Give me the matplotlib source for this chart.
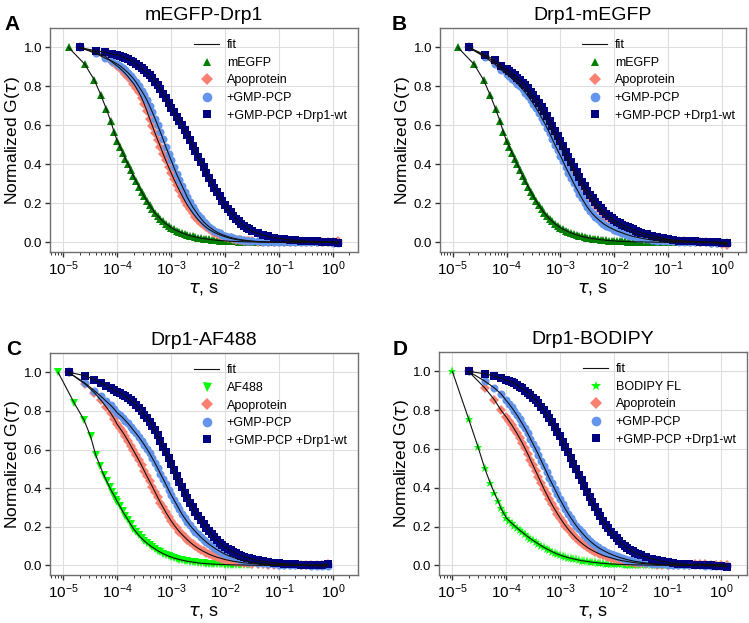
"""Normalized FCS autocorrelation curves, four labelled Drp1 constructs."""
import matplotlib
matplotlib.use("Agg")
import matplotlib.pyplot as plt
from matplotlib.lines import Line2D
from matplotlib.ticker import LogLocator, NullFormatter, FormatStrFormatter

import numpy as np

plt.rcParams['font.family'] = ['Liberation Sans', 'DejaVu Sans']
plt.rcParams['mathtext.fontset'] = 'dejavusans'

# lag times, log10(tau / s), shared by all curves after the first few lags
LOG_T = [-4.0, -3.95, -3.9, -3.85, -3.8, -3.75, -3.7, -3.65, -3.6, -3.55,
         -3.5, -3.45, -3.4, -3.35, -3.3, -3.25, -3.2, -3.15, -3.1, -3.05,
         -3.0, -2.95, -2.9, -2.85, -2.8, -2.75, -2.7, -2.65, -2.6, -2.55,
         -2.5, -2.45, -2.4, -2.35, -2.3, -2.25, -2.2, -2.15, -2.1, -2.05,
         -2.0, -1.95, -1.9, -1.85, -1.8, -1.75, -1.7, -1.65, -1.6, -1.55,
         -1.5, -1.4, -1.3, -1.2, -1.1, -1.0, -0.9, -0.8, -0.7, -0.6,
         -0.5, -0.4, -0.3, -0.2, -0.1, 0.0, 0.1]
LOG_T_C = LOG_T[:65]

# first (linearly spaced) lags, seconds
T_EARLY_125 = [1.25e-5, 2.5e-5, 3.75e-5, 5.0e-5, 6.25e-5, 7.5e-5, 8.75e-5]
T_EARLY_20 = [2e-5, 4e-5, 6e-5, 8e-5]
T_EARLY_08 = [0.8e-5, 1.6e-5, 2.4e-5, 3.2e-5, 4.0e-5, 4.8e-5,
              5.6e-5, 6.4e-5, 7.2e-5, 8.0e-5, 8.8e-5, 9.6e-5]
T_EARLY_10 = [1e-5, 2e-5, 3e-5, 4e-5, 5e-5, 6e-5, 7e-5, 8e-5, 9e-5]

# --- panel A / B dye: mEGFP
MEGFP = [1.0, 0.914, 0.833, 0.754, 0.685, 0.625, 0.565,
         0.52, 0.49, 0.46, 0.43, 0.40, 0.37, 0.34, 0.312, 0.285, 0.26,
         0.235, 0.212, 0.19, 0.17, 0.15, 0.135, 0.12, 0.107, 0.095, 0.085,
         0.075, 0.067, 0.06, 0.054, 0.048, 0.043, 0.038, 0.034, 0.03, 0.027,
         0.024, 0.021, 0.019, 0.017, 0.015, 0.013, 0.012, 0.01, 0.009, 0.008,
         0.007, 0.006, 0.005, 0.0045, 0.004, 0.0035, 0.003, 0.0025, 0.002, 0.002,
         0.002, 0.001, 0.001, 0.0, 0.0, 0.0, 0.0, 0.0, 0.0, 0.0,
         0.0, 0.0, 0.0, 0.0, 0.0, 0.0, 0.0]

# --- panel A: mEGFP-Drp1
A_APO = [1.0, 0.975, 0.955, 0.925,
         0.905, 0.893, 0.88, 0.866, 0.85, 0.833, 0.815, 0.794, 0.77, 0.742,
         0.71, 0.674, 0.635, 0.598, 0.56, 0.525, 0.49, 0.455, 0.42, 0.387,
         0.355, 0.324, 0.295, 0.267, 0.24, 0.214, 0.19, 0.17, 0.15, 0.132,
         0.115, 0.101, 0.088, 0.076, 0.066, 0.058, 0.05, 0.044, 0.038, 0.033,
         0.028, 0.024, 0.02, 0.017, 0.014, 0.012, 0.01, 0.0085, 0.007, 0.006,
         0.005, 0.003, 0.002, 0.001, 0.0, 0.0, 0.0, 0.002, 0.003, 0.002,
         0.0, 0.0, 0.002, 0.003, 0.002, 0.0, 0.004]
A_GMP = [1.0, 0.97, 0.945, 0.93,
         0.915, 0.906, 0.895, 0.883, 0.87, 0.856, 0.84, 0.821, 0.80, 0.778,
         0.755, 0.729, 0.70, 0.668, 0.635, 0.60, 0.565, 0.528, 0.49, 0.455,
         0.42, 0.385, 0.35, 0.32, 0.29, 0.26, 0.23, 0.205, 0.18, 0.16,
         0.14, 0.122, 0.105, 0.092, 0.08, 0.07, 0.06, 0.052, 0.045, 0.039,
         0.034, 0.029, 0.025, 0.021, 0.018, 0.015, 0.013, 0.011, 0.009, 0.0075,
         0.006, 0.004, 0.003, 0.002, 0.001, 0.0, 0.0, 0.0, 0.0, 0.0,
         0.0, 0.0, 0.0, 0.0, 0.0, -0.002, -0.004]
A_WT = [1.0, 0.983, 0.976, 0.965,
        0.962, 0.957, 0.952, 0.946, 0.94, 0.933, 0.925, 0.915, 0.905, 0.894,
        0.882, 0.87, 0.858, 0.842, 0.825, 0.806, 0.785, 0.763, 0.74, 0.715,
        0.69, 0.668, 0.645, 0.623, 0.60, 0.575, 0.55, 0.523, 0.495, 0.468,
        0.44, 0.412, 0.385, 0.357, 0.33, 0.305, 0.28, 0.257, 0.235, 0.212,
        0.19, 0.172, 0.155, 0.137, 0.12, 0.107, 0.095, 0.085, 0.075, 0.066,
        0.058, 0.046, 0.037, 0.03, 0.024, 0.019, 0.015, 0.012, 0.01, 0.008,
        0.006, 0.005, 0.004, 0.003, 0.002, 0.0, -0.005]

# --- panel B: Drp1-mEGFP
B_APO = [1.0, 0.955, 0.925, 0.895,
         0.875, 0.865, 0.855, 0.843, 0.83, 0.815, 0.80, 0.785, 0.77, 0.75,
         0.73, 0.71, 0.69, 0.668, 0.645, 0.62, 0.595, 0.568, 0.54, 0.515,
         0.49, 0.462, 0.435, 0.41, 0.385, 0.36, 0.335, 0.312, 0.29, 0.267,
         0.245, 0.227, 0.21, 0.192, 0.175, 0.16, 0.145, 0.132, 0.12, 0.11,
         0.1, 0.091, 0.082, 0.074, 0.067, 0.061, 0.055, 0.05, 0.045, 0.04,
         0.036, 0.029, 0.023, 0.018, 0.014, 0.011, 0.008, 0.006, 0.004, 0.003,
         0.002, 0.001, 0.0, -0.002, -0.004, -0.008, -0.015]
B_GMP = [1.0, 0.95, 0.915, 0.885,
         0.865, 0.853, 0.84, 0.828, 0.815, 0.80, 0.785, 0.768, 0.75, 0.73,
         0.71, 0.688, 0.665, 0.64, 0.615, 0.588, 0.56, 0.53, 0.50, 0.472,
         0.445, 0.415, 0.385, 0.357, 0.33, 0.302, 0.275, 0.25, 0.225, 0.202,
         0.18, 0.162, 0.145, 0.131, 0.118, 0.106, 0.095, 0.086, 0.078, 0.071,
         0.064, 0.058, 0.053, 0.048, 0.043, 0.038, 0.034, 0.03, 0.027, 0.024,
         0.021, 0.016, 0.012, 0.009, 0.007, 0.005, 0.004, 0.003, 0.002, 0.001,
         0.0, 0.0, 0.0, -0.002, -0.003, -0.005, -0.006]
B_WT = [1.0, 0.962, 0.935, 0.905,
        0.887, 0.879, 0.87, 0.858, 0.845, 0.833, 0.82, 0.806, 0.79, 0.773,
        0.755, 0.735, 0.715, 0.695, 0.675, 0.65, 0.625, 0.598, 0.57, 0.545,
        0.52, 0.492, 0.465, 0.437, 0.41, 0.385, 0.36, 0.335, 0.31, 0.287,
        0.265, 0.245, 0.225, 0.207, 0.19, 0.175, 0.16, 0.147, 0.135, 0.125,
        0.115, 0.106, 0.098, 0.091, 0.084, 0.078, 0.072, 0.066, 0.06, 0.055,
        0.05, 0.042, 0.034, 0.027, 0.021, 0.016, 0.012, 0.009, 0.007, 0.005,
        0.004, 0.003, 0.002, 0.001, 0.0, -0.002, -0.005]

# --- panel C: Drp1-AF488
C_AF488 = [1.0, 0.84, 0.755, 0.668, 0.57, 0.515, 0.47, 0.435, 0.405, 0.38, 0.36, 0.34,
           0.33, 0.305, 0.28, 0.257, 0.235, 0.212, 0.19, 0.172, 0.155, 0.14,
           0.127, 0.115, 0.104, 0.094, 0.085, 0.076, 0.068, 0.061, 0.054, 0.048,
           0.043, 0.038, 0.034, 0.03, 0.027, 0.024, 0.021, 0.019, 0.017, 0.015,
           0.013, 0.011, 0.01, 0.009, 0.008, 0.007, 0.006, 0.0055, 0.005, 0.0045,
           0.004, 0.0035, 0.003, 0.0025, 0.002, 0.002, 0.002, 0.0015, 0.001, 0.001,
           0.001, 0.0, 0.0, 0.0, 0.0, 0.0, 0.0, 0.0, 0.0, 0.0,
           0.0, 0.0, 0.0, 0.0, 0.0]
C_APO = [1.0, 0.94, 0.895, 0.855, 0.82, 0.79, 0.76,
         0.73, 0.71, 0.69, 0.668, 0.645, 0.62, 0.595, 0.57, 0.545, 0.518,
         0.49, 0.462, 0.435, 0.408, 0.38, 0.352, 0.325, 0.30, 0.275, 0.252,
         0.23, 0.21, 0.192, 0.175, 0.16, 0.146, 0.132, 0.12, 0.108, 0.098,
         0.088, 0.08, 0.072, 0.065, 0.058, 0.052, 0.047, 0.042, 0.038, 0.034,
         0.03, 0.027, 0.024, 0.021, 0.019, 0.017, 0.015, 0.013, 0.012, 0.0105,
         0.009, 0.007, 0.005, 0.004, 0.003, 0.002, 0.001, 0.0, 0.0, 0.0,
         0.0, 0.0, 0.002, 0.003, 0.005]
C_GMP = [1.0, 0.945, 0.905, 0.875, 0.85, 0.83, 0.81,
         0.79, 0.778, 0.765, 0.75, 0.735, 0.718, 0.70, 0.683, 0.665, 0.645,
         0.625, 0.603, 0.58, 0.555, 0.53, 0.503, 0.475, 0.448, 0.42, 0.392,
         0.365, 0.34, 0.315, 0.29, 0.265, 0.245, 0.225, 0.207, 0.19, 0.175,
         0.16, 0.146, 0.133, 0.121, 0.11, 0.10, 0.09, 0.081, 0.073, 0.065,
         0.058, 0.052, 0.046, 0.041, 0.036, 0.032, 0.028, 0.025, 0.022, 0.0195,
         0.017, 0.013, 0.01, 0.007, 0.005, 0.004, 0.002, 0.001, 0.0, 0.0,
         0.0, -0.002, -0.003, -0.004, -0.003]
C_WT = [1.0, 0.983, 0.962, 0.945, 0.93, 0.918, 0.908,
        0.90, 0.893, 0.885, 0.875, 0.865, 0.855, 0.845, 0.831, 0.815, 0.798,
        0.78, 0.763, 0.745, 0.723, 0.70, 0.673, 0.645, 0.615, 0.585, 0.554,
        0.523, 0.492, 0.462, 0.433, 0.405, 0.377, 0.35, 0.325, 0.30, 0.277,
        0.255, 0.235, 0.215, 0.196, 0.178, 0.161, 0.145, 0.131, 0.118, 0.106,
        0.095, 0.086, 0.077, 0.069, 0.062, 0.056, 0.05, 0.045, 0.04, 0.036,
        0.032, 0.026, 0.021, 0.017, 0.014, 0.011, 0.009, 0.007, 0.005, 0.004,
        0.003, 0.002, 0.001, 0.0, 0.006]

# --- panel D: Drp1-BODIPY
D_BODIPY = [1.0, 0.756, 0.61, 0.50, 0.427, 0.374, 0.333, 0.293, 0.268,
            0.245, 0.231, 0.218, 0.205, 0.193, 0.181, 0.17, 0.159, 0.148, 0.138,
            0.128, 0.119, 0.11, 0.101, 0.093, 0.085, 0.078, 0.071, 0.064, 0.058,
            0.053, 0.048, 0.044, 0.04, 0.036, 0.033, 0.03, 0.027, 0.024, 0.022,
            0.02, 0.018, 0.016, 0.0145, 0.013, 0.0115, 0.01, 0.009, 0.008, 0.007,
            0.006, 0.0055, 0.005, 0.0045, 0.004, 0.0035, 0.003, 0.0025, 0.002, 0.002,
            0.002, 0.001, 0.001, 0.0, 0.0, 0.0, 0.0, 0.0, 0.0, 0.0,
            0.0, 0.0, 0.0, 0.0, 0.0, 0.0, 0.0]
D_APO = [1.0, 0.915, 0.855, 0.80,
         0.765, 0.745, 0.725, 0.703, 0.68, 0.656, 0.63, 0.603, 0.575, 0.545,
         0.515, 0.485, 0.455, 0.425, 0.395, 0.367, 0.34, 0.314, 0.29, 0.267,
         0.245, 0.224, 0.205, 0.187, 0.17, 0.155, 0.14, 0.127, 0.115, 0.104,
         0.094, 0.085, 0.077, 0.07, 0.063, 0.057, 0.051, 0.046, 0.042, 0.038,
         0.034, 0.03, 0.027, 0.024, 0.022, 0.019, 0.017, 0.015, 0.013, 0.0115,
         0.01, 0.008, 0.006, 0.004, 0.003, 0.002, 0.001, 0.0, 0.0, 0.003,
         0.005, 0.005, 0.005, 0.004, 0.003, 0.002, 0.0]
D_GMP = [1.0, 0.95, 0.915, 0.885,
         0.85, 0.833, 0.815, 0.795, 0.775, 0.753, 0.73, 0.706, 0.68, 0.653,
         0.625, 0.598, 0.57, 0.54, 0.51, 0.48, 0.45, 0.422, 0.395, 0.367,
         0.34, 0.315, 0.29, 0.267, 0.245, 0.225, 0.205, 0.187, 0.17, 0.155,
         0.14, 0.127, 0.115, 0.104, 0.094, 0.085, 0.077, 0.07, 0.063, 0.057,
         0.051, 0.046, 0.041, 0.037, 0.033, 0.029, 0.026, 0.023, 0.02, 0.018,
         0.016, 0.012, 0.009, 0.007, 0.005, 0.004, 0.002, 0.001, 0.0, 0.0,
         0.0, 0.0, -0.002, -0.003, -0.004, -0.005, -0.005]
D_WT = [1.0, 0.988, 0.976, 0.966,
        0.955, 0.95, 0.945, 0.938, 0.93, 0.921, 0.912, 0.901, 0.89, 0.878,
        0.865, 0.851, 0.835, 0.818, 0.80, 0.781, 0.76, 0.738, 0.715, 0.69,
        0.665, 0.638, 0.61, 0.583, 0.555, 0.525, 0.495, 0.467, 0.44, 0.41,
        0.38, 0.352, 0.325, 0.30, 0.275, 0.252, 0.23, 0.21, 0.19, 0.172,
        0.155, 0.14, 0.125, 0.112, 0.10, 0.09, 0.08, 0.072, 0.064, 0.058,
        0.052, 0.042, 0.034, 0.027, 0.021, 0.016, 0.012, 0.009, 0.007, 0.005,
        0.003, 0.002, 0.001, 0.0, -0.002, -0.004, -0.007]

PROTEIN_LABELS = ['Apoprotein', '+GMP-PCP', '+GMP-PCP +Drp1-wt']
PROTEIN_STYLE = [('D', '#fa8072', 5.3), ('o', '#6495ed', 5.8), ('s', '#000080', 5.3)]

W, H = 749, 623
panels = [
    dict(letter='A', title='mEGFP-Drp1', rect=(50, 28, 358, 252), letter_xy=(4, 30),
         xlim=(-5.247, 0.463), grid=LOG_T, dye_t=T_EARLY_125, dye=MEGFP,
         dye_label='mEGFP', dye_marker='^', dye_color='#008000', dye_ms=5.2,
         prot_t=T_EARLY_20, prots=[A_APO, A_GMP, A_WT]),
    dict(letter='B', title='Drp1-mEGFP', rect=(440, 28, 746, 252), letter_xy=(392, 30),
         xlim=(-5.235, 0.446), grid=LOG_T, dye_t=T_EARLY_125, dye=MEGFP,
         dye_label='mEGFP', dye_marker='^', dye_color='#008000', dye_ms=5.2,
         prot_t=T_EARLY_20, prots=[B_APO, B_GMP, B_WT]),
    dict(letter='C', title='Drp1-AF488', rect=(50, 353, 358, 575), letter_xy=(6, 355),
         xlim=(-5.247, 0.463), grid=LOG_T_C, dye_t=T_EARLY_08, dye=C_AF488,
         dye_label='AF488', dye_marker='v', dye_color='#00ff00', dye_ms=5.4,
         prot_t=T_EARLY_125, prots=[C_APO, C_GMP, C_WT]),
    dict(letter='D', title='Drp1-BODIPY', rect=(439, 352, 747, 575), letter_xy=(393, 355),
         xlim=(-5.248, 0.474), grid=LOG_T, dye_t=T_EARLY_10, dye=D_BODIPY,
         dye_label='BODIPY FL', dye_marker='*', dye_color='#00ff00', dye_ms=6.5,
         prot_t=T_EARLY_20, prots=[D_APO, D_GMP, D_WT]),
]

fig = plt.figure(figsize=(W / 100, H / 100), dpi=100, facecolor='w')

for p in panels:
    x0, y0, x1, y1 = p['rect']
    ax = fig.add_axes([x0 / W, 1 - y1 / H, (x1 - x0) / W, (y1 - y0) / H])
    ax.set_axisbelow(True)
    grid_t = list(10.0 ** np.array(p['grid']))

    series = []
    t_dye = np.array(p['dye_t'] + grid_t)
    assert len(t_dye) == len(p['dye']), p['dye_label']
    ax.plot(t_dye, p['dye'], ls='none', marker=p['dye_marker'], ms=p['dye_ms'],
            color=p['dye_color'], mew=0, zorder=2)
    series.append((t_dye, p['dye']))

    t_prot = np.array(p['prot_t'] + grid_t)
    for g, (m, c, ms) in zip(p['prots'], PROTEIN_STYLE):
        assert len(t_prot) == len(g), p['letter']
        ax.plot(t_prot, g, ls='none', marker=m, ms=ms, color=c, mew=0, zorder=2)
        series.append((t_prot, g))

    # fitted curves on top
    for t, g in series:
        ax.plot(t, g, color='#111111', lw=0.8, zorder=4)

    ax.set_xscale('log')
    ax.set_xlim(10 ** p['xlim'][0], 10 ** p['xlim'][1])
    ax.set_ylim(-0.05, 1.10)
    ax.set_yticks([0.0, 0.2, 0.4, 0.6, 0.8, 1.0])
    ax.yaxis.set_major_formatter(FormatStrFormatter('%.1f'))
    ax.xaxis.set_major_locator(LogLocator(base=10, numticks=10))
    ax.xaxis.set_minor_locator(LogLocator(base=10, subs=np.arange(2, 10), numticks=20))
    ax.xaxis.set_minor_formatter(NullFormatter())
    ax.grid(True, which='major', color='#dedede', lw=0.8)
    for s in ax.spines.values():
        s.set_color('#707070')
        s.set_linewidth(1.0)
    ax.tick_params(which='major', direction='out', length=3.5, width=1.0,
                   color='#333333', pad=2)
    ax.tick_params(axis='y', labelsize=9.5)
    ax.tick_params(axis='x', labelsize=11)
    ax.tick_params(which='minor', direction='out', length=2, width=0.7, color='#333333')

    ax.set_xlabel(r'$\tau$, s', fontsize=13, labelpad=1)
    ax.set_ylabel(r'Normalized G($\tau$)', fontsize=12.5, labelpad=1)
    ax.set_title(p['title'], fontsize=14, pad=6)

    handles = [Line2D([], [], color='#111111', lw=0.8, label='fit'),
               Line2D([], [], ls='none', marker=p['dye_marker'], ms=p['dye_ms'],
                      color=p['dye_color'], mew=0, label=p['dye_label'])]
    for lab, (m, c, ms) in zip(PROTEIN_LABELS, PROTEIN_STYLE):
        handles.append(Line2D([], [], ls='none', marker=m, ms=ms, color=c, mew=0, label=lab))
    ax.legend(handles=handles, loc='upper right', frameon=False, fontsize=9,
              markerscale=1.2, labelspacing=0.45, handletextpad=0.6, handlelength=2.0)

    lx, ly = p['letter_xy']
    fig.text(lx / W, 1 - ly / H, p['letter'], fontsize=15, fontweight='bold',
             va='baseline', ha='left')

plt.savefig('out.png', dpi=100, facecolor='w')
